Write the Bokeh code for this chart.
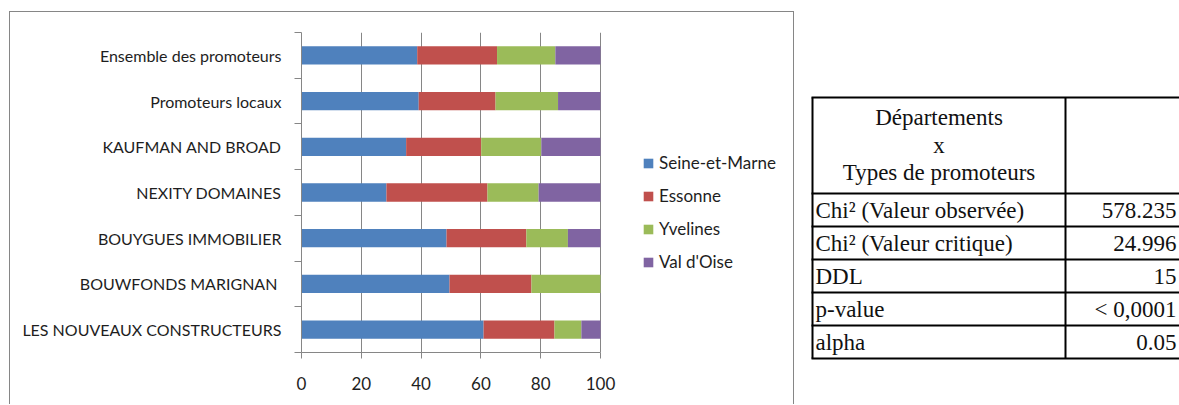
from bokeh.plotting import figure
from bokeh.models import (ColumnDataSource, Range1d, FixedTicker, Legend, LegendItem, Spacer)
from bokeh.layouts import row, column
from bokeh.embed import file_html
from bokeh.resources import INLINE
from bokeh.core.properties import value

# ---------------- data ----------------
categories = ["Ensemble des promoteurs", "Promoteurs locaux", "KAUFMAN AND BROAD",
              "NEXITY DOMAINES", "BOUYGUES IMMOBILIER", "BOUWFONDS MARIGNAN ",
              "LES NOUVEAUX CONSTRUCTEURS"]
series_names = ["Seine-et-Marne", "Essonne", "Yvelines", "Val d'Oise"]
seine_et_marne = [38.7, 39.2, 35.0, 28.4, 48.5, 49.5, 60.9]
essonne = [26.7, 25.7, 25.1, 33.8, 26.7, 27.4, 23.7]
yvelines = [19.5, 20.9, 20.1, 17.1, 13.9, 23.1, 9.0]
val_d_oise = [15.1, 14.2, 19.8, 20.7, 10.9, 0.0, 6.4]
x_ticks = [0, 20, 40, 60, 80, 100]

header_lines = ["Départements", "x", "Types de promoteurs"]
stat_labels = ["Chi² (Valeur observée)", "Chi² (Valeur critique)", "DDL", "p-value", "alpha"]
stat_values = ["578.235", "24.996", "15", "< 0,0001", "0.05"]

# ---------------- styles ----------------
colors = ["#4F81BD", "#C0504D", "#9BBB59", "#8064A2"]
FONT = "Lato"
FS = "17px"
FS_Y = "16px"
TXT = "#1e1e1e"
AX = "#868686"

n = len(categories)
ypos = [n - i - 0.5 for i in range(n)]
keys = ["s0", "s1", "s2", "s3"]
src = ColumnDataSource(dict(y=ypos, s0=seine_et_marne, s1=essonne, s2=yvelines, s3=val_d_oise))

# chart canvas geometry (pixels)
OFF_X, OFF_Y = 9, 11
W1, H1 = 785, 393
B_LEFT, B_RIGHT, B_TOP, B_BOTTOM = 291, 5, 20, 53
AXIS_PX = 299                       # pixel length of 0..100
frame_w = W1 - B_LEFT - B_RIGHT
x_end = 100 * frame_w / AXIS_PX      # frame extends right to host the legend

p = figure(width=W1, height=H1, x_range=Range1d(0, x_end), y_range=Range1d(0, n),
           output_backend="svg", toolbar_location=None,
           min_border_left=B_LEFT, min_border_right=B_RIGHT,
           min_border_top=B_TOP, min_border_bottom=B_BOTTOM)
p.frame_align = False
p.styles = {"border-left": f"1px solid {AX}", "border-top": f"1px solid {AX}",
            "border-right": f"1px solid {AX}"}
p.outline_line_color = None
p.background_fill_color = "white"
p.border_fill_color = "white"

rs = p.hbar_stack(keys, y="y", height=0.4, color=colors, source=src, line_color=None)

# x axis
p.xaxis.ticker = FixedTicker(ticks=x_ticks)
p.xaxis.bounds = (x_ticks[0], x_ticks[-1])
p.xaxis.axis_line_color = AX
p.xaxis.major_tick_line_color = AX
p.xaxis.major_tick_out = 6
p.xaxis.major_tick_in = 0
p.xaxis.minor_tick_line_color = None
p.xaxis.major_label_text_font = FONT
p.xaxis.major_label_text_font_size = FS
p.xaxis.major_label_text_color = TXT
p.xaxis.major_label_standoff = 18

# y axis (labels at centres, ticks at category boundaries)
p.yaxis.ticker = FixedTicker(ticks=ypos, minor_ticks=list(range(n + 1)))
p.yaxis.major_label_overrides = {yv: c for yv, c in zip(ypos, categories)}
p.yaxis.axis_line_color = AX
p.yaxis.major_tick_line_color = None
p.yaxis.major_tick_out = 0
p.yaxis.major_tick_in = 0
p.yaxis.minor_tick_line_color = AX
p.yaxis.minor_tick_out = 7
p.yaxis.minor_tick_in = 0
p.yaxis.major_label_text_font = FONT
p.yaxis.major_label_text_font_size = FS_Y
p.yaxis.major_label_text_color = TXT
p.yaxis.major_label_standoff = 13

p.xgrid.ticker = FixedTicker(ticks=x_ticks)
p.xgrid.grid_line_color = AX
p.ygrid.grid_line_color = None

legend = Legend(items=[LegendItem(label=nm, renderers=[r]) for nm, r in zip(series_names, rs)],
                location=(341, 80), orientation="vertical",
                glyph_width=12, glyph_height=12, label_height=12, spacing=12,
                label_standoff=5, padding=0, margin=0,
                border_line_color=None, background_fill_alpha=0,
                label_text_font=FONT, label_text_font_size=FS, label_text_color=TXT)
p.add_layout(legend, "center")

# ---------------- statistics table ----------------
W2, H2 = 1179 - (OFF_X + W1 + 2), 405
t = figure(width=W2, height=H2, x_range=Range1d(0, W2), y_range=Range1d(H2, 0),
           output_backend="svg", toolbar_location=None, min_border=0)
t.frame_align = False
t.axis.visible = False
t.grid.visible = False
t.outline_line_color = None

tab_left, col_div, tab_top, head_bot, row_h = 16, 269, 97, 193, 33
row_edges = [head_bot + k * row_h for k in range(len(stat_labels) + 1)]
h_y = [tab_top] + row_edges
t.multi_line(xs=[[tab_left - 1, W2 + 20] for _ in h_y], ys=[[yy, yy] for yy in h_y],
             line_color="black", line_width=2)
t.multi_line(xs=[[tab_left, tab_left], [col_div, col_div]],
             ys=[[tab_top, row_edges[-1]], [tab_top, row_edges[-1]]],
             line_color="black", line_width=2)

SF = "Liberation Serif"
SFS = "23px"
hc = (tab_left + col_div) / 2
t.text(x=[hc] * len(header_lines), y=[tab_top + 20 + 27.5 * k for k in range(len(header_lines))],
       text=header_lines, text_font=value(SF), text_font_size=SFS, text_align="center",
       text_baseline="middle", text_color="#111111")
row_mid = [e + row_h / 2 for e in row_edges[:-1]]
t.text(x=[tab_left + 3] * len(stat_labels), y=row_mid, text=stat_labels,
       text_font=value(SF), text_font_size=SFS, text_align="left",
       text_baseline="middle", text_color="#111111")
t.text(x=[W2 - 3] * len(stat_values), y=row_mid, text=stat_values,
       text_font=value(SF), text_font_size=SFS, text_align="right",
       text_baseline="middle", text_color="#111111")

chart_col = column(Spacer(width=W1 + 2, height=OFF_Y), p)
layout = row(Spacer(width=OFF_X, height=H2), chart_col, t)
open("out.html", "w").write(file_html(layout, INLINE))
